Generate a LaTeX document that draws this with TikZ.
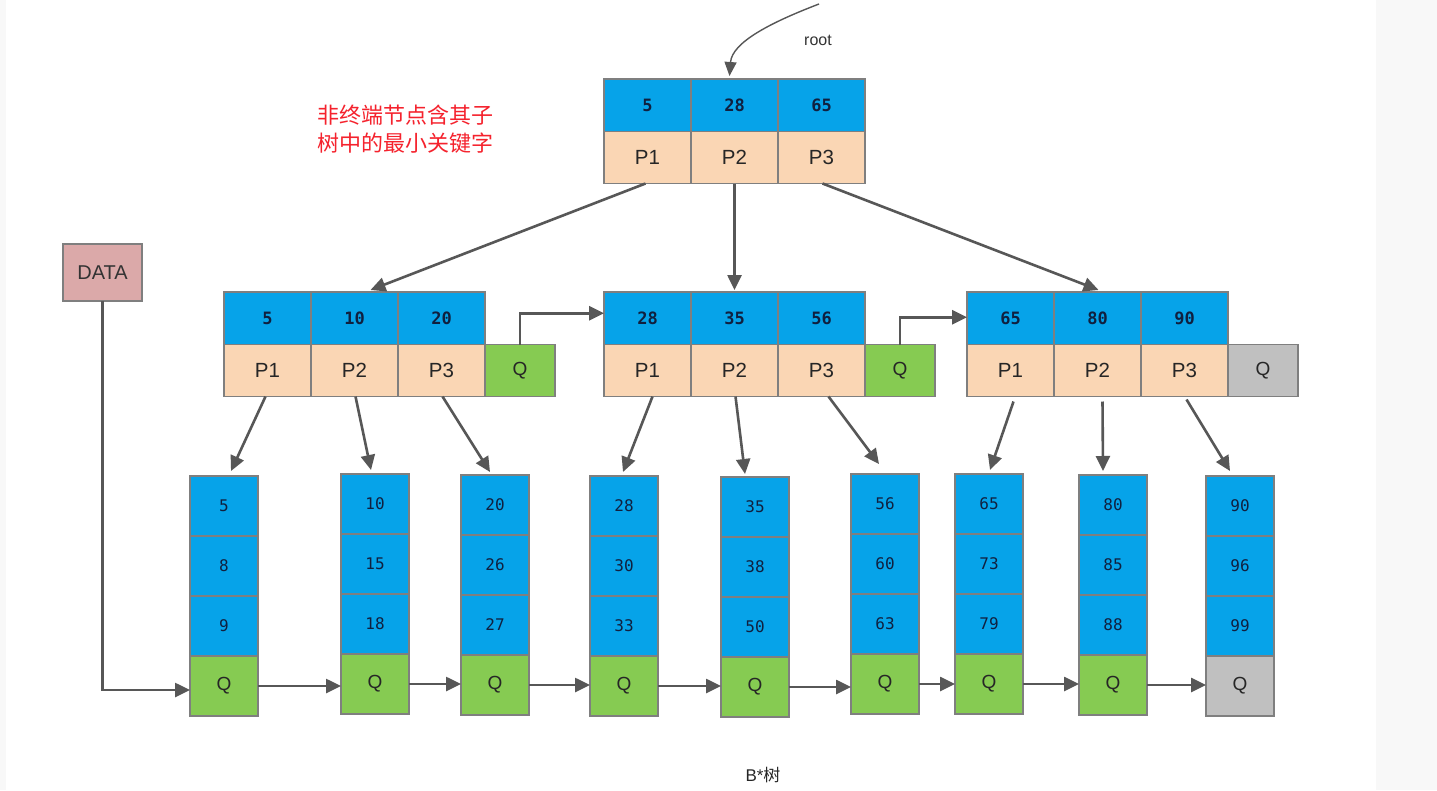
\documentclass[tikz,border=0pt]{standalone}
\usepackage{fontspec}
\setmainfont{Liberation Sans}
\newfontfamily\cjk{Noto Sans CJK SC}
\newfontfamily\keyfont{DejaVu Sans Mono}
\usetikzlibrary{arrows.meta,calc}
\definecolor{keyblue}{HTML}{06A3E9}
\definecolor{peach}{HTML}{FAD6B4}
\definecolor{qgreen}{HTML}{86CB52}
\definecolor{qgray}{HTML}{C0C0C0}
\definecolor{datapink}{HTML}{DBA9A9}
\definecolor{bordergray}{HTML}{7F7F7F}
\definecolor{arrowgray}{HTML}{575757}
\definecolor{navy}{HTML}{10203F}
\definecolor{redtext}{HTML}{F5222D}
\definecolor{bandgray}{HTML}{F8F8F8}
\tikzset{
  cell/.style={draw=bordergray, line width=1.2pt, inner sep=0pt, outer sep=0pt, anchor=north west},
  keycell/.style={cell, fill=keyblue, minimum width=87pt, minimum height=52.5pt, text=navy,
    font=\keyfont\bfseries\fontsize{17}{17}\selectfont},
  ptrcell/.style={cell, fill=peach, minimum width=87pt, minimum height=52pt, text=black!85,
    font=\fontsize{20.5}{20.5}\selectfont},
  qcell/.style={cell, fill=qgreen, minimum width=70pt, minimum height=52pt, text=black!85,
    font=\fontsize{19}{19}\selectfont},
  leafkey/.style={cell, fill=keyblue, minimum width=68pt, minimum height=60pt, text=navy,
    font=\keyfont\fontsize{16}{16}\selectfont},
  leafq/.style={cell, fill=qgreen, minimum width=68pt, minimum height=60pt, text=black!85,
    font=\fontsize{19}{19}\selectfont},
  link/.style={draw=arrowgray, line width=2.6pt, -{Triangle[length=15pt,width=14pt]}},
}
\newcommand\innernode[6]{%
  \node[keycell] (#1k1) at (#2,#3) {#4};
  \node[keycell] (#1k2) at (#1k1.north east) {#5};
  \node[keycell] (#1k3) at (#1k2.north east) {#6};
  \node[ptrcell] (#1p1) at (#1k1.south west) {P1};
  \node[ptrcell] (#1p2) at (#1k2.south west) {P2};
  \node[ptrcell] (#1p3) at (#1k3.south west) {P3};
}
\newcommand\leafcol[7]{%
  \node[leafkey] (#1a) at (#2,#3) {#4};
  \node[leafkey] (#1b) at (#1a.south west) {#5};
  \node[leafkey] (#1c) at (#1b.south west) {#6};
  \node[leafq, fill=#7] (#1q) at (#1c.south west) {Q};
}
\begin{document}
\begin{tikzpicture}[x=1pt,y=-1pt]
\useasboundingbox (0,0) rectangle (1437,790);
\fill[white] (0,0) rectangle (1437,790);
\fill[bandgray] (0,0) rectangle (6,790);
\fill[bandgray] (1376,0) rectangle (1437,790);

% root
\innernode{r}{604}{79}{5}{28}{65}
\coordinate (rootstart) at (819,4);
\node[font=\fontsize{16}{16}\selectfont, text=black!80] (rootlbl) at (818,40) {root};
\draw[draw=arrowgray, line width=1.4pt, -{Triangle[length=14pt,width=12pt]}]
  (rootstart) .. controls (772,22) and (732,42) .. ([xshift=-5pt,yshift=3pt]rk2.north);

% red note
\node[text=redtext, font=\cjk\fontsize{22}{28}\selectfont, align=center] (note) at (405,129)
  {非终端节点含其子\\树中的最小关键字};

% DATA
\node[cell, fill=datapink, minimum width=79pt, minimum height=57pt,
  font=\fontsize{20}{20}\selectfont, text=black!80] (data) at (63,244) {DATA};

% middle level
\innernode{a}{224}{292}{5}{10}{20}
\node[qcell] (aq) at (ap3.north east) {Q};
\innernode{b}{604}{292}{28}{35}{56}
\node[qcell] (bq) at (bp3.north east) {Q};
\innernode{c}{967}{292}{65}{80}{90}
\node[qcell, fill=qgray] (cq) at (cp3.north east) {Q};

% leaves
\leafcol{la}{190}{476}{5}{8}{9}{qgreen}
\leafcol{lb}{341}{474}{10}{15}{18}{qgreen}
\leafcol{lc}{461}{475}{20}{26}{27}{qgreen}
\leafcol{ld}{590}{476}{28}{30}{33}{qgreen}
\leafcol{le}{721}{477}{35}{38}{50}{qgreen}
\leafcol{lf}{851}{474}{56}{60}{63}{qgreen}
\leafcol{lg}{955}{474}{65}{73}{79}{qgreen}
\leafcol{lh}{1079}{475}{80}{85}{88}{qgreen}
\leafcol{li}{1206}{476}{90}{96}{99}{qgray}

% root -> middle
\draw[link] ([xshift=-2pt]rp1.south) -- ([xshift=16pt,yshift=2pt]ak2.north);
\draw[link] (rp2.south) -- ([yshift=2pt]bk2.north);
\draw[link] ([xshift=1pt]rp3.south) -- ([xshift=1pt,yshift=2pt]ck2.north);

% sibling links
\draw[link] ([xshift=0pt]aq.north) |- ([yshift=5pt]bk1.west);
\draw[link] ([xshift=0pt]bq.north) |- ([yshift=1pt]ck1.west);

% middle -> leaves
\draw[link] ([xshift=-2pt]ap1.south) -- ([xshift=7pt,yshift=5pt]laa.north);
\draw[link] ([xshift=1pt]ap2.south) -- ([xshift=-4pt,yshift=4pt]lba.north);
\draw[link] ([xshift=1pt]ap3.south) -- ([xshift=-5pt,yshift=3pt]lca.north);
\draw[link] ([xshift=5pt]bp1.south) -- ([xshift=-1pt,yshift=4pt]lda.north);
\draw[link] ([xshift=1pt]bp2.south) -- ([xshift=-10pt,yshift=3pt]lea.north);
\draw[link] ([xshift=7pt]bp3.south) -- ([xshift=-6pt,yshift=10pt]lfa.north);
\draw[link] ([xshift=3pt,yshift=-5pt]cp1.south) -- ([xshift=1pt,yshift=4pt]lga.north);
\draw[link] ([xshift=5pt,yshift=-5pt]cp2.south) -- ([xshift=-10pt,yshift=4pt]lha.north);
\draw[link] ([xshift=2pt,yshift=-3pt]cp3.south) -- ([xshift=-10pt,yshift=5pt]lia.north);

% DATA -> first leaf
\draw[link] (data.south) |- ([yshift=-4pt]laq.west);

% leaf chain
\draw[link] (laq.east) -- (laq.east -| lbq.west);
\draw[link] (lbq.east) -- (lbq.east -| lcq.west);
\draw[link] (lcq.east) -- (lcq.east -| ldq.west);
\draw[link] (ldq.east) -- (ldq.east -| leq.west);
\draw[link] (leq.east) -- (leq.east -| lfq.west);
\draw[link] (lfq.east) -- (lfq.east -| lgq.west);
\draw[link] (lgq.east) -- (lgq.east -| lhq.west);
\draw[link] (lhq.east) -- (lhq.east -| liq.west);

% caption
\node[font=\fontsize{17}{17}\selectfont, text=black!85] (caption) at (763,775) {B*\cjk 树};
\end{tikzpicture}
\end{document}
